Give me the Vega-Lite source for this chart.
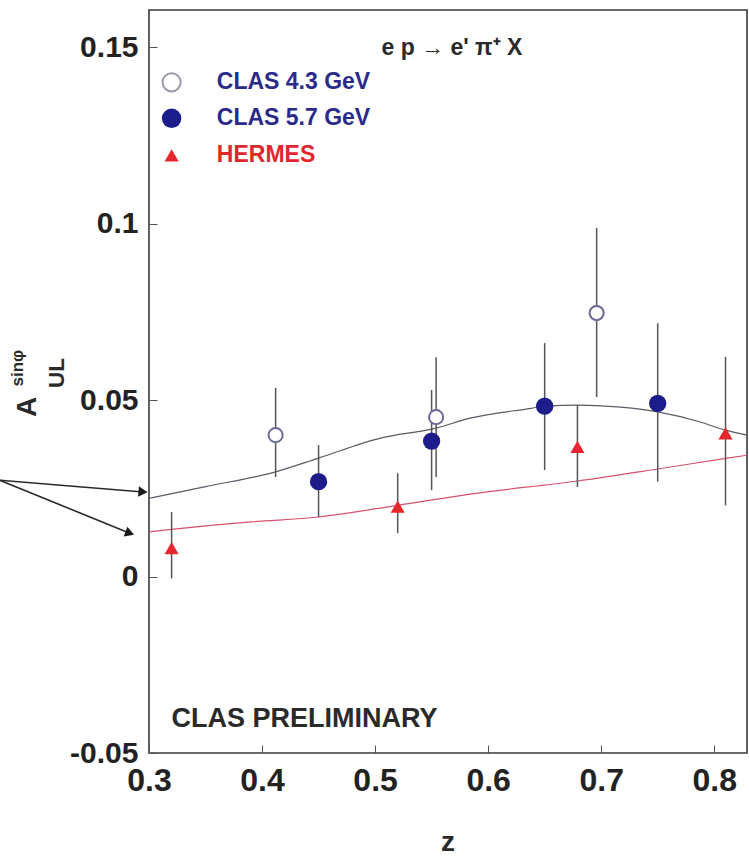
{
  "$schema": "https://vega.github.io/schema/vega-lite/v6.json",
  "width": 598,
  "height": 743,
  "autosize": {"type": "none"},
  "padding": {"left": 149, "top": 10, "right": 2, "bottom": 103},
  "background": "white",
  "config": {
    "view": {"stroke": "#3a3a3a", "strokeWidth": 1.6},
    "font": "Liberation Sans, Arial"
  },
  "datasets": {
    "points": [
      {"z": 0.412, "A": 0.0401, "lo": 0.0282, "hi": 0.0535, "set": "CLAS 4.3 GeV"},
      {"z": 0.554, "A": 0.0452, "lo": 0.0282, "hi": 0.0622, "set": "CLAS 4.3 GeV"},
      {"z": 0.696, "A": 0.0747, "lo": 0.0509, "hi": 0.0988, "set": "CLAS 4.3 GeV"},
      {"z": 0.45, "A": 0.0269, "lo": 0.0169, "hi": 0.0373, "set": "CLAS 5.7 GeV"},
      {"z": 0.55, "A": 0.0384, "lo": 0.0245, "hi": 0.0529, "set": "CLAS 5.7 GeV"},
      {"z": 0.65, "A": 0.0483, "lo": 0.0302, "hi": 0.0662, "set": "CLAS 5.7 GeV"},
      {"z": 0.75, "A": 0.0491, "lo": 0.0269, "hi": 0.0718, "set": "CLAS 5.7 GeV"},
      {"z": 0.32, "A": 0.0081, "lo": -0.0005, "hi": 0.0183, "set": "HERMES"},
      {"z": 0.52, "A": 0.0198, "lo": 0.0123, "hi": 0.0293, "set": "HERMES"},
      {"z": 0.679, "A": 0.0368, "lo": 0.0254, "hi": 0.0486, "set": "HERMES"},
      {"z": 0.81, "A": 0.0406, "lo": 0.0202, "hi": 0.0623, "set": "HERMES"}
    ],
    "curves": [
      {"z": 0.3, "A": 0.0222, "curve": "upper"},
      {"z": 0.35, "A": 0.0255, "curve": "upper"},
      {"z": 0.412, "A": 0.0297, "curve": "upper"},
      {"z": 0.45, "A": 0.0336, "curve": "upper"},
      {"z": 0.504, "A": 0.0392, "curve": "upper"},
      {"z": 0.554, "A": 0.0421, "curve": "upper"},
      {"z": 0.584, "A": 0.0449, "curve": "upper"},
      {"z": 0.638, "A": 0.0477, "curve": "upper"},
      {"z": 0.65, "A": 0.0483, "curve": "upper"},
      {"z": 0.68, "A": 0.0486, "curve": "upper"},
      {"z": 0.7, "A": 0.0484, "curve": "upper"},
      {"z": 0.75, "A": 0.0467, "curve": "upper"},
      {"z": 0.787, "A": 0.0439, "curve": "upper"},
      {"z": 0.81, "A": 0.0415, "curve": "upper"},
      {"z": 0.829, "A": 0.0401, "curve": "upper"},
      {"z": 0.3, "A": 0.0127, "curve": "lower"},
      {"z": 0.32, "A": 0.0134, "curve": "lower"},
      {"z": 0.39, "A": 0.0155, "curve": "lower"},
      {"z": 0.45, "A": 0.0169, "curve": "lower"},
      {"z": 0.52, "A": 0.0202, "curve": "lower"},
      {"z": 0.584, "A": 0.0234, "curve": "lower"},
      {"z": 0.679, "A": 0.0271, "curve": "lower"},
      {"z": 0.75, "A": 0.0305, "curve": "lower"},
      {"z": 0.81, "A": 0.0335, "curve": "lower"},
      {"z": 0.829, "A": 0.0344, "curve": "lower"}
    ],
    "legend": [
      {"z": 0.32, "A": 0.1401, "tz": 0.36, "set": "CLAS 4.3 GeV"},
      {"z": 0.32, "A": 0.1299, "tz": 0.36, "set": "CLAS 5.7 GeV"},
      {"z": 0.32, "A": 0.1194, "tz": 0.36, "set": "HERMES"}
    ],
    "arrows": [
      {"z": 0.168, "A": 0.0273, "z2": 0.2947, "A2": 0.024, "ang": 5},
      {"z": 0.168, "A": 0.0273, "z2": 0.283, "A2": 0.0123, "ang": 21}
    ]
  },
  "layer": [
    {
      "data": {"name": "curves"},
      "transform": [{"filter": "datum.curve === 'upper'"}],
      "mark": {"type": "line", "strokeWidth": 1.2, "interpolate": "monotone", "color": "#5a5a66"},
      "encoding": {
        "x": {
          "field": "z", "type": "quantitative",
          "scale": {"domain": [0.3, 0.829], "nice": false, "zero": false},
          "axis": {
            "values": [0.3, 0.4, 0.5, 0.6, 0.7, 0.8], "format": ".1f", "title": null,
            "domain": false, "grid": false, "tickSize": -8, "tickColor": "#555",
            "labelFontSize": 32, "labelFontWeight": "bold", "labelColor": "#222",
            "labelPadding": 20, "labelFlush": false
          }
        },
        "y": {
          "field": "A", "type": "quantitative",
          "scale": {"domain": [-0.05, 0.1606], "nice": false, "zero": false},
          "axis": {
            "values": [-0.05, 0, 0.05, 0.1, 0.15], "labelExpr": "'' + datum.value", "title": null,
            "domain": false, "grid": false, "tickSize": -8, "tickColor": "#555",
            "labelFontSize": 30, "labelFontWeight": "bold", "labelColor": "#222",
            "labelPadding": 19, "labelFlush": false, "labelBaseline": "middle"
          }
        }
      }
    },
    {
      "data": {"name": "curves"},
      "transform": [{"filter": "datum.curve === 'lower'"}],
      "mark": {"type": "line", "strokeWidth": 1.2, "interpolate": "monotone", "color": "#d8506e"},
      "encoding": {
        "x": {"field": "z", "type": "quantitative"},
        "y": {"field": "A", "type": "quantitative"}
      }
    },
    {
      "data": {"name": "points"},
      "mark": {"type": "rule", "color": "#555555", "strokeWidth": 1.5},
      "encoding": {
        "x": {"field": "z", "type": "quantitative"},
        "y": {"field": "lo", "type": "quantitative"},
        "y2": {"field": "hi"}
      }
    },
    {
      "data": {"name": "points"},
      "transform": [{"filter": "datum.set === 'CLAS 4.3 GeV'"}],
      "mark": {"type": "point", "filled": true, "fill": "white", "stroke": "#6a6a9a", "strokeWidth": 2, "size": 200, "opacity": 1},
      "encoding": {
        "x": {"field": "z", "type": "quantitative"},
        "y": {"field": "A", "type": "quantitative"}
      }
    },
    {
      "data": {"name": "points"},
      "transform": [{"filter": "datum.set === 'CLAS 5.7 GeV'"}],
      "mark": {"type": "point", "filled": true, "color": "#1c1c8a", "size": 300, "opacity": 1},
      "encoding": {
        "x": {"field": "z", "type": "quantitative"},
        "y": {"field": "A", "type": "quantitative"}
      }
    },
    {
      "data": {"name": "points"},
      "transform": [{"filter": "datum.set === 'HERMES'"}],
      "mark": {"type": "point", "shape": "triangle-up", "filled": true, "color": "#e6262e", "size": 200, "opacity": 1},
      "encoding": {
        "x": {"field": "z", "type": "quantitative"},
        "y": {"field": "A", "type": "quantitative"}
      }
    },
    {
      "data": {"name": "legend"},
      "transform": [{"filter": "datum.set === 'CLAS 4.3 GeV'"}],
      "mark": {"type": "point", "filled": true, "fill": "white", "stroke": "#9a9aaa", "strokeWidth": 2, "size": 330, "opacity": 1},
      "encoding": {
        "x": {"field": "z", "type": "quantitative"},
        "y": {"field": "A", "type": "quantitative"}
      }
    },
    {
      "data": {"name": "legend"},
      "transform": [{"filter": "datum.set === 'CLAS 5.7 GeV'"}],
      "mark": {"type": "point", "filled": true, "color": "#1c1c8a", "size": 380, "opacity": 1},
      "encoding": {
        "x": {"field": "z", "type": "quantitative"},
        "y": {"field": "A", "type": "quantitative"}
      }
    },
    {
      "data": {"name": "legend"},
      "transform": [{"filter": "datum.set === 'HERMES'"}],
      "mark": {"type": "point", "shape": "triangle-up", "filled": true, "color": "#e6262e", "size": 200, "opacity": 1},
      "encoding": {
        "x": {"field": "z", "type": "quantitative"},
        "y": {"field": "A", "type": "quantitative"}
      }
    },
    {
      "data": {"name": "legend"},
      "transform": [{"filter": "datum.set !== 'HERMES'"}],
      "mark": {"type": "text", "align": "left", "baseline": "middle", "fontSize": 23, "fontWeight": "bold", "color": "#2a2a8c"},
      "encoding": {
        "x": {"field": "tz", "type": "quantitative"},
        "y": {"field": "A", "type": "quantitative"},
        "text": {"field": "set"}
      }
    },
    {
      "data": {"name": "legend"},
      "transform": [{"filter": "datum.set === 'HERMES'"}],
      "mark": {"type": "text", "align": "left", "baseline": "middle", "fontSize": 23, "fontWeight": "bold", "color": "#e0262e"},
      "encoding": {
        "x": {"field": "tz", "type": "quantitative"},
        "y": {"field": "A", "type": "quantitative"},
        "text": {"field": "set"}
      }
    },
    {
      "data": {"values": [{"z": 0.568, "A": 0.1498, "label": "e p → e' π⁺ X"}]},
      "mark": {"type": "text", "baseline": "middle", "align": "center", "fontWeight": "bold", "fontSize": 23, "color": "#2a2a2a"},
      "encoding": {
        "x": {"field": "z", "type": "quantitative"},
        "y": {"field": "A", "type": "quantitative"},
        "text": {"field": "label"}
      }
    },
    {
      "data": {"values": [{"z": 0.32, "A": -0.0404, "label": "CLAS PRELIMINARY"}]},
      "mark": {"type": "text", "baseline": "middle", "align": "left", "fontWeight": "bold", "fontSize": 27, "color": "#2a2a2a"},
      "encoding": {
        "x": {"field": "z", "type": "quantitative"},
        "y": {"field": "A", "type": "quantitative"},
        "text": {"field": "label"}
      }
    },
    {
      "data": {"values": [{"z": 0.5645, "A": -0.0755, "label": "z"}]},
      "mark": {"type": "text", "baseline": "middle", "align": "center", "fontWeight": "bold", "fontSize": 28, "color": "#2a2a2a"},
      "encoding": {
        "x": {"field": "z", "type": "quantitative"},
        "y": {"field": "A", "type": "quantitative"},
        "text": {"field": "label"}
      }
    },
    {
      "data": {"values": [
        {"z": 0.193, "A": 0.0481, "label": "A", "sz": "big"},
        {"z": 0.184, "A": 0.0591, "label": "sinφ", "sz": "small"},
        {"z": 0.2186, "A": 0.0577, "label": "UL", "sz": "mid"}
      ]},
      "mark": {"type": "text", "baseline": "middle", "align": "center", "angle": 270, "fontWeight": "bold", "color": "#2a2a2a"},
      "encoding": {
        "x": {"field": "z", "type": "quantitative"},
        "y": {"field": "A", "type": "quantitative"},
        "text": {"field": "label"},
        "size": {"field": "sz", "type": "nominal", "scale": {"domain": ["big", "mid", "small"], "range": [28, 17, 14]}, "legend": null}
      }
    },
    {
      "data": {"name": "arrows"},
      "mark": {"type": "rule", "color": "#2a2a2a", "strokeWidth": 1.6},
      "encoding": {
        "x": {"field": "z", "type": "quantitative"},
        "y": {"field": "A", "type": "quantitative"},
        "x2": {"field": "z2"},
        "y2": {"field": "A2"}
      }
    },
    {
      "data": {"name": "arrows"},
      "mark": {"type": "point", "shape": "triangle-right", "filled": true, "color": "#1a1a1a", "size": 110, "opacity": 1},
      "encoding": {
        "x": {"field": "z2", "type": "quantitative"},
        "y": {"field": "A2", "type": "quantitative"},
        "angle": {"field": "ang", "type": "quantitative", "scale": null}
      }
    }
  ]
}
